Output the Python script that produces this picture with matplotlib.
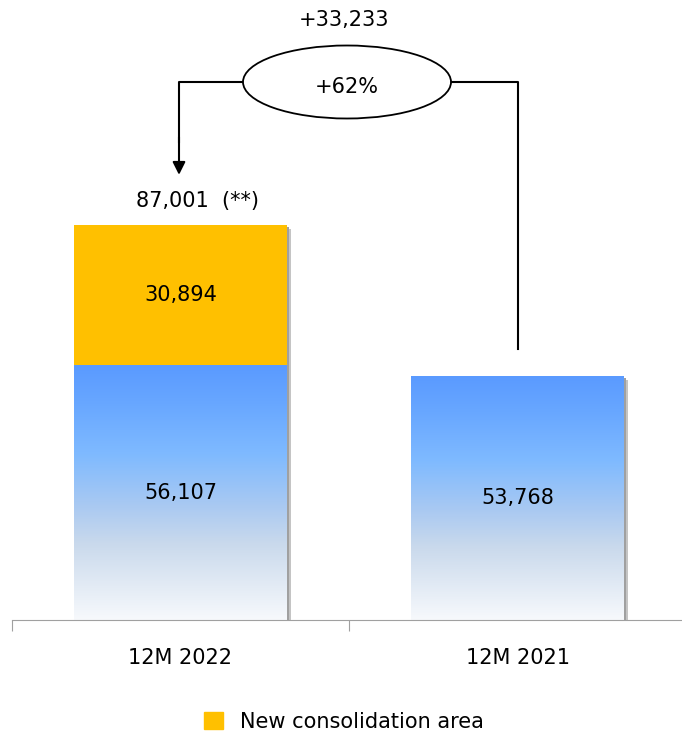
import numpy as np
import matplotlib
matplotlib.use("Agg")
import matplotlib.pyplot as plt
from matplotlib.patches import Ellipse, Rectangle, Patch
from matplotlib.colors import LinearSegmentedColormap

# data
categories = ["12M 2022", "12M 2021"]
base_values = [56107, 53768]
new_area_values = [30894, 0]
total_note = "(**)"
legend_label = "New consolidation area"

totals = [b + n for b, n in zip(base_values, new_area_values)]
diff = totals[0] - totals[1]
pct = diff / totals[1] * 100

plt.rcParams['font.family'] = ['DejaVu Sans']
FS = 15

W, H = 682, 733
fig = plt.figure(figsize=(W / 100, H / 100), dpi=100)
# axes: bottom at y=620 px, left at x=12 px
ax = fig.add_axes([12 / W, (H - 620) / H, 674 / W, 620 / H])
ymax = 136500
ax.set_xlim(-0.5, 1.5)
ax.set_ylim(0, ymax)
ax.patch.set_alpha(0)

px_y = ymax / 620   # data units per pixel (y)
px_x = 2.0 / 674    # data units per pixel (x)

bar_w = 0.63
orange = "#FFC000"
blue_cmap = LinearSegmentedColormap.from_list(
    "blue_grad", [(0.0, "#F7F9FC"), (0.3, "#C9D9EC"), (0.45, "#A9C9F2"),
                  (0.65, "#7FBAFF"), (0.85, "#68A7FF"), (1.0, "#5A9AFF")])

grad = np.linspace(0, 1, 256).reshape(-1, 1)

for i, (b, n) in enumerate(zip(base_values, new_area_values)):
    left = i - bar_w / 2
    top = b + n
    # soft shadow at right
    ax.add_patch(Rectangle((left + 4 * px_x, 0), bar_w, top - 4 * px_y,
                           color="#C4C4C4", lw=0, zorder=1))
    ax.add_patch(Rectangle((left + 2 * px_x, 0), bar_w, top - 2 * px_y,
                           color="#A0A0A0", lw=0, zorder=1))
    rect = Rectangle((left, 0), bar_w, b, facecolor="none", lw=0, zorder=2)
    ax.add_patch(rect)
    im = ax.imshow(grad, cmap=blue_cmap, aspect="auto", origin="lower",
                   extent=[left, left + bar_w, 0, b], zorder=2)
    im.set_clip_path(rect)
    if n > 0:
        ax.bar(i, n, bar_w, bottom=b, color=orange, lw=0, zorder=2)
        ax.text(i, b + n / 2, f"{n:,}", ha="center", va="center", fontsize=FS, zorder=3)
    ax.text(i, b / 2, f"{b:,}", ha="center", va="center", fontsize=FS, zorder=3)

ax.text(0.05, totals[0] + 24 * px_y, f"{totals[0]:,}  {total_note}",
        ha="center", va="center", fontsize=FS)

# comparison connector
ex = -0.5 + (347 - 12) * px_x
ey = (620 - 82) * px_y
ew, eh = 208 * px_x, 73 * px_y
ax.add_patch(Ellipse((ex, ey), ew, eh, facecolor="white", edgecolor="black", lw=1.3, zorder=4))
ax.text(ex, ey - 5 * px_y, f"+{pct:.0f}%", ha="center", va="center", fontsize=FS, zorder=5)
ax.text(ex - 3 * px_x, ey + 62 * px_y, f"+{diff:,}", ha="center", va="center", fontsize=FS)

rx = -0.5 + (518 - 12) * px_x
ax.plot([rx, rx, ex + ew / 2], [totals[1] + 27 * px_y, ey, ey], color="black", lw=1.5, zorder=3)
lx = -0.5 + (179 - 12) * px_x
ax.plot([ex - ew / 2, lx, lx], [ey, ey, ey - 60 * px_y], color="black", lw=1.5, zorder=3)
ax.annotate("", xy=(lx, totals[0] + 50 * px_y), xytext=(lx, ey - 55 * px_y),
            arrowprops=dict(arrowstyle="-|>", color="black", lw=1.5,
                            mutation_scale=19, shrinkA=0, shrinkB=0))

# axis styling
for s in ["top", "right", "left"]:
    ax.spines[s].set_visible(False)
ax.spines["bottom"].set_color("#A0A0A0")
ax.set_yticks([])
ax.set_xticks([-0.5, 0.5, 1.5])
ax.set_xticklabels([])
ax.tick_params(axis="x", which="major", length=8, color="#A0A0A0")
ax.set_xticks([0, 1], minor=True)
ax.set_xticklabels(categories, minor=True, fontsize=FS)
ax.tick_params(axis="x", which="minor", length=0, pad=20)

fig.legend(handles=[Patch(color=orange, label=legend_label)], loc="center",
           bbox_to_anchor=(344 / W, 1 - 722 / H), frameon=False, fontsize=FS,
           handlelength=0.9, handleheight=0.9, handletextpad=0.8)

fig.savefig("out.png", dpi=100)
